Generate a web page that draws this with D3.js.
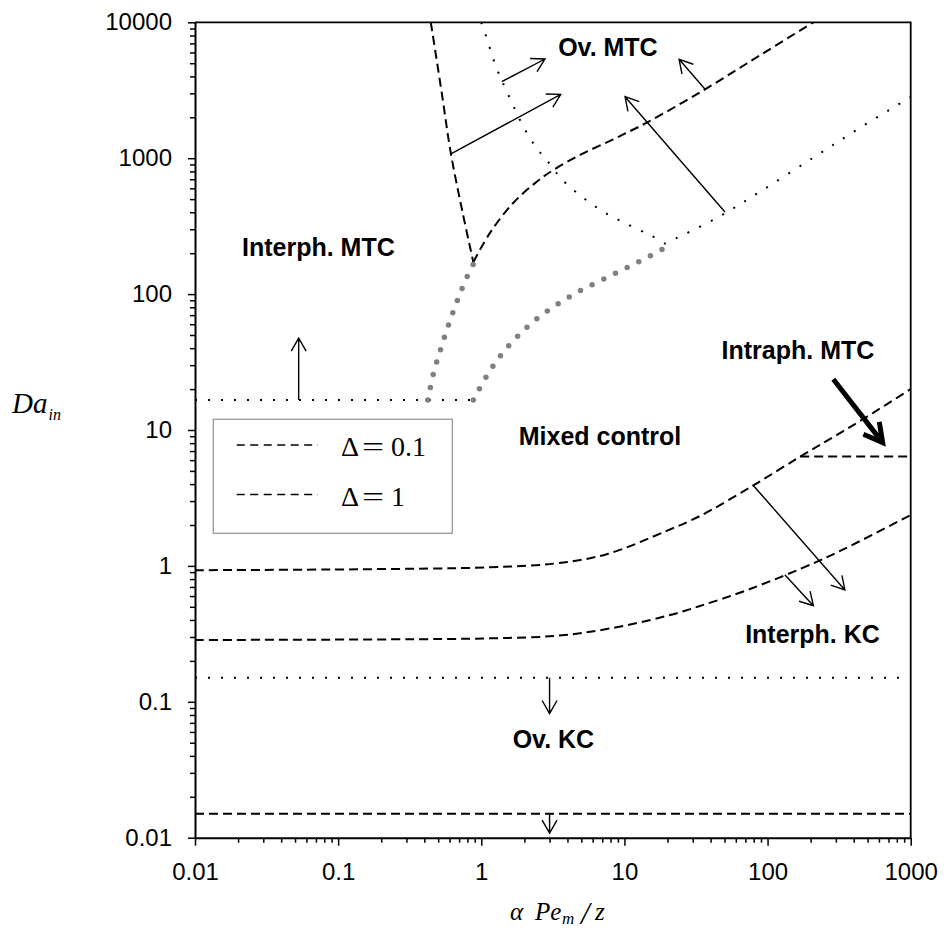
<!DOCTYPE html>
<html>
<head>
<meta charset="utf-8">
<script src="https://cdn.jsdelivr.net/npm/d3@7"></script>
<style>
  body { margin: 0; background: #fff; }
  svg { display: block; }
  .region { font-family: "Liberation Sans", Arial, sans-serif; font-size: 25px; font-weight: bold; }
  .math { font-family: "Liberation Serif", "Times New Roman", serif; }
</style>
</head>
<body>
<svg id="chart" width="944" height="933"></svg>
<script>
// axis ticks
const xTicks = [0.01, 0.1, 1, 10, 100, 1000];
const xTickLabels = ["0.01", "0.1", "1", "10", "100", "1000"];
const yTicks = [0.01, 0.1, 1, 10, 100, 1000, 10000];
const yTickLabels = ["0.01", "0.1", "1", "10", "100", "1000", "10000"];

// boundaries, [alpha Pe_m / z, Da_in]
const deltaSmall = [[0.01, 0.93], [0.135, 0.944], [1.15, 0.977], [3.36, 1.045], [7.52, 1.22], [19.7, 1.81],
  [33.7, 2.33], [79.5, 3.91], [169, 6.37], [288, 8.87], [493, 12.5], [1000, 20]];
const deltaLarge = [[0.01, 0.285], [0.23, 0.288], [1.15, 0.293], [3.36, 0.306], [7.52, 0.343], [19.7, 0.428],
  [33.7, 0.507], [75.4, 0.676], [220, 1.07], [377, 1.40], [1000, 2.37]];
const intraphMTC = [[169, 6.37], [1000, 6.37]];
const ovKCdash = [[0.01, 0.015], [1000, 0.015]];
const ovKCdot = [[0.01, 0.15], [1000, 0.15]];
const interphMTCdot = [[0.01, 16.6], [0.88, 16.6]];
const steepDash = [[0.444, 10000], [0.53, 3000], [0.614, 1074], [0.74, 400], [0.88, 172]];
const ovMTCdash = [[0.88, 172], [1.15, 282], [1.67, 468], [2.44, 671], [3.19, 819], [4.9, 1056], [8.36, 1378],
  [14.3, 1825], [36.6, 3214], [88.5, 5718], [209, 10000]];
const ovMTCdotDown = [[1.0, 10000], [1.06, 8385], [1.28, 4588], [1.51, 3086], [1.97, 1706], [2.44, 1183],
  [2.86, 970], [3.65, 700], [5.03, 521], [7.12, 404], [10.4, 328], [15.1, 272], [18.3, 246]];
const ovMTCdotUp = [[18.9, 234], [42.9, 357], [88.5, 567], [214, 1026], [437, 1660], [1000, 2820]];
const greyLeft = [[0.423, 16.6], [0.462, 25.7], [0.521, 39.5], [0.592, 60], [0.684, 91], [0.80, 136], [0.88, 166]];
const greyRight = [[0.88, 16.6], [1.08, 24.5], [1.37, 35.5], [1.81, 49.4], [2.48, 66.7], [3.49, 85.5],
  [5.0, 107], [7.28, 130], [10.5, 157], [15.3, 192], [18.5, 214]];

// arrows: from -> to
const arrowFrom = [[0.053, 16.6], [3, 0.15], [3, 0.015], [1.39, 3656], [0.614, 1074], [50.4, 402], [36.6, 3214],
  [79.5, 3.91], [132, 0.861]];
const arrowTo = [[0.053, 47.5], [3, 0.082], [3, 0.0108], [2.79, 5370], [3.59, 2952], [10.1, 2836], [24.1, 5345],
  [347, 0.665], [209, 0.509]];
const boldArrow = [[288, 23.6], [637, 8.07]];

// region labels
const regionNames = ["Ov. MTC", "Interph. MTC", "Intraph. MTC", "Mixed control", "Interph. KC", "Ov. KC"];
const regionAt = [[7.67, 5650], [0.0213, 190.6], [163, 33.3], [6.75, 7.76], [206, 0.271], [3.19, 0.0457]];
const regionAnchor = ["middle", "start", "middle", "middle", "middle", "middle"];

const svg = d3.select("#chart");
const x = d3.scaleLog().domain([0.01, 1000]).range([195, 910.7]);
const y = d3.scaleLog().domain([0.01, 10000]).range([837.7, 22.3]);

svg.append("defs").append("clipPath")
  .attr("id", "plot")
  .append("rect")
  .attr("x", 195).attr("y", 22.3)
  .attr("width", 910.7 - 195).attr("height", 837.7 - 22.3);

const plot = svg.append("g").attr("clip-path", "url(#plot)");

const lineLinear = d3.line().x(d => x(d[0])).y(d => y(d[1]));
const lineSmooth = d3.line().x(d => x(d[0])).y(d => y(d[1])).curve(d3.curveCatmullRom.alpha(0.5));

function dashed(data, smooth) {
  plot.append("path")
    .attr("d", (smooth ? lineSmooth : lineLinear)(data))
    .attr("fill", "none")
    .attr("stroke", "#000")
    .attr("stroke-width", 2)
    .attr("stroke-dasharray", "9,5");
}

function dotted(data, smooth) {
  plot.append("path")
    .attr("d", (smooth ? lineSmooth : lineLinear)(data))
    .attr("fill", "none")
    .attr("stroke", "#000")
    .attr("stroke-width", 2)
    .attr("stroke-dasharray", "2,11");
}

function greyDots(data) {
  plot.append("path")
    .attr("d", lineSmooth(data))
    .attr("fill", "none")
    .attr("stroke", "#808080")
    .attr("stroke-width", 5.5)
    .attr("stroke-linecap", "round")
    .attr("stroke-dasharray", "0,13");
}

dotted(ovKCdot);
dotted(interphMTCdot);
dotted(ovMTCdotDown, true);
dotted(ovMTCdotUp, true);
dashed(ovKCdash);
dashed(deltaSmall, true);
dashed(deltaLarge, true);
dashed(intraphMTC);
dashed(steepDash, true);
dashed(ovMTCdash, true);
greyDots(greyLeft);
greyDots(greyRight);

function arrowPath(p0, p1, len, ang) {
  const x0 = x(p0[0]), y0 = y(p0[1]), x1 = x(p1[0]), y1 = y(p1[1]);
  const a = Math.atan2(y1 - y0, x1 - x0);
  const w1 = [x1 - len * Math.cos(a - ang), y1 - len * Math.sin(a - ang)];
  const w2 = [x1 - len * Math.cos(a + ang), y1 - len * Math.sin(a + ang)];
  return `M${x0},${y0}L${x1},${y1}M${w1[0]},${w1[1]}L${x1},${y1}L${w2[0]},${w2[1]}`;
}

arrowFrom.forEach((p, i) => {
  svg.append("path")
    .attr("d", arrowPath(p, arrowTo[i], 15, 0.52))
    .attr("fill", "none")
    .attr("stroke", "#000")
    .attr("stroke-width", 1.4);
});

svg.append("path")
  .attr("d", arrowPath(boldArrow[0], boldArrow[1], 21, 0.5))
  .attr("fill", "none")
  .attr("stroke", "#000")
  .attr("stroke-width", 5)
  .attr("stroke-linejoin", "miter");

// region labels
regionNames.forEach((name, i) => {
  svg.append("text")
    .attr("class", "region")
    .attr("x", x(regionAt[i][0]))
    .attr("y", y(regionAt[i][1]))
    .attr("text-anchor", regionAnchor[i])
    .text(name);
});

// legend
const legend = svg.append("g");
legend.append("rect")
  .attr("x", 213.3).attr("y", 419.3)
  .attr("width", 239).attr("height", 114)
  .attr("fill", "#fff")
  .attr("stroke", "#999")
  .attr("stroke-width", 1.3);
[["0.1", 445], ["1", 494.5]].forEach(([v, ly]) => {
  legend.append("line")
    .attr("x1", 236.7).attr("x2", 318)
    .attr("y1", ly).attr("y2", ly)
    .attr("stroke", "#000")
    .attr("stroke-width", 1.5)
    .attr("stroke-dasharray", "8,5.5");
  const t = legend.append("text")
    .attr("class", "math")
    .attr("y", ly + 11)
    .style("font-size", "28px");
  t.append("tspan").attr("x", 341).text("\u0394");
  t.append("tspan").attr("x", 391).text(v);
  legend.append("text")
    .attr("class", "math")
    .attr("transform", `translate(362,${ly + 11}) scale(1.4,1)`)
    .style("font-size", "28px")
    .text("=");
});

// axes
const minorX = x.ticks().filter(d => !xTicks.includes(d));
const minorY = y.ticks().filter(d => !yTicks.includes(d));

function styleAxis(g) {
  g.select(".domain").attr("stroke-width", 2);
  g.selectAll(".tick line").attr("stroke-width", 1.5);
  g.selectAll(".tick text")
    .attr("font-family", "'Liberation Sans', Arial, sans-serif")
    .attr("font-size", 24)
    .attr("font-weight", "normal")
    .attr("fill", "#000");
}

svg.append("g")
  .attr("transform", "translate(0,837.7)")
  .call(d3.axisBottom(x).tickValues(minorX).tickSize(5).tickFormat("").tickSizeOuter(0))
  .call(g => g.select(".domain").remove())
  .call(g => g.selectAll(".tick line").attr("stroke-width", 1.5));
svg.append("g")
  .attr("transform", "translate(0,837.7)")
  .call(d3.axisBottom(x).tickValues(xTicks).tickFormat((d, i) => xTickLabels[i]).tickSize(8).tickSizeOuter(0).tickPadding(17))
  .call(styleAxis);

svg.append("g")
  .attr("transform", "translate(195,0)")
  .call(d3.axisLeft(y).tickValues(minorY).tickSize(5).tickFormat("").tickSizeOuter(0))
  .call(g => g.select(".domain").remove())
  .call(g => g.selectAll(".tick line").attr("stroke-width", 1.5));
svg.append("g")
  .attr("transform", "translate(195,0)")
  .call(d3.axisLeft(y).tickValues(yTicks).tickFormat((d, i) => yTickLabels[i]).tickSize(7).tickSizeOuter(0).tickPadding(16))
  .call(styleAxis);

// top and right frame
svg.append("path")
  .attr("d", `M195,22.3H910.7V837.7`)
  .attr("fill", "none")
  .attr("stroke", "#000")
  .attr("stroke-width", 1.8);

// axis titles
const yTitle = svg.append("text").attr("class", "math").attr("font-style", "italic")
  .attr("x", 12).attr("y", 413.3);
yTitle.append("tspan").style("font-size", "29px").text("Da");
yTitle.append("tspan").attr("dx", 1).attr("dy", 7).style("font-size", "16px").text("in");

const xTitle = svg.append("text").attr("class", "math").attr("font-style", "italic");
xTitle.append("tspan").attr("x", 510).attr("y", 920).style("font-size", "25px").text("\u03b1");
xTitle.append("tspan").attr("x", 535).attr("y", 920).style("font-size", "25px").text("Pe");
xTitle.append("tspan").attr("x", 562).attr("y", 924).style("font-size", "17px").text("m");
xTitle.append("tspan").attr("x", 581).attr("y", 924).style("font-size", "31px").text("/");
xTitle.append("tspan").attr("x", 595).attr("y", 920).style("font-size", "25px").text("z");
</script>
</body>
</html>
